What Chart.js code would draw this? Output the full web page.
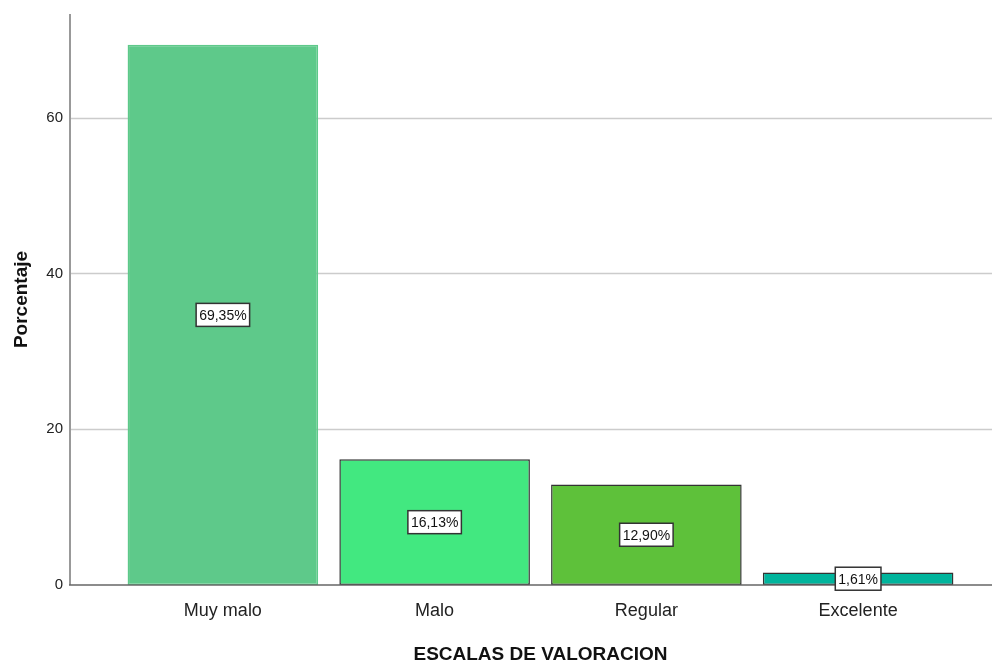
<!DOCTYPE html>
<html lang="es">
<head>
    <meta charset="UTF-8">
    <title>Escalas de valoracion</title>
    <script src="https://cdn.jsdelivr.net/npm/chart.js"></script>
    <style>
        body {
            margin: 0;
            background: #fff;
        }
        canvas {
            display: block;
        }
    </style>
</head>
<body>
    <canvas id="grafico" width="992" height="666"></canvas>
    <script>
        // Datos
        const categorias = ['Muy malo', 'Malo', 'Regular', 'Excelente'];
        const porcentajes = [69.35, 16.13, 12.90, 1.61];
        const ticksY = [0, 20, 40, 60];

        const colores = ['#5ec98a', '#42e880', '#5ec13a', '#00b49c'];
        const bordes = ['#5ec98a', '#333333', '#333333', '#333333'];

        const fuente = "'Liberation Sans', Arial, sans-serif";

        // Ejes y lineas de cuadricula que van de borde a borde
        const lineasPlugin = {
            id: 'lineas',
            beforeDatasetsDraw(chart) {
                const ctx = chart.ctx;
                const y = chart.scales.y;
                const x0 = 70;
                const x1 = chart.width;
                ctx.save();
                ctx.strokeStyle = '#cccccc';
                ctx.lineWidth = 1.5;
                y.ticks.forEach(t => {
                    if (t.value === 0) return;
                    const py = Math.round(y.getPixelForValue(t.value)) + 0.5;
                    ctx.beginPath();
                    ctx.moveTo(x0, py);
                    ctx.lineTo(x1, py);
                    ctx.stroke();
                });
                ctx.strokeStyle = '#999999';
                ctx.lineWidth = 2;
                ctx.beginPath();
                ctx.moveTo(x0, y.top);
                ctx.lineTo(x0, y.getPixelForValue(0));
                ctx.stroke();
                ctx.restore();
            },
            afterDatasetsDraw(chart) {
                const ctx = chart.ctx;
                const y = chart.scales.y;
                const py = y.getPixelForValue(0);
                ctx.save();
                ctx.strokeStyle = '#666666';
                ctx.lineWidth = 1.5;
                ctx.beginPath();
                ctx.moveTo(69, py);
                ctx.lineTo(chart.width, py);
                ctx.stroke();

                // Etiquetas con el porcentaje
                const meta = chart.getDatasetMeta(0);
                ctx.font = '14px ' + fuente;
                ctx.textAlign = 'center';
                ctx.textBaseline = 'middle';
                meta.data.forEach((barra, i) => {
                    const texto = porcentajes[i].toFixed(2).replace('.', ',') + '%';
                    const cy = (barra.y + barra.base) / 2;
                    const w = ctx.measureText(texto).width + 6;
                    const h = 23;
                    ctx.fillStyle = '#ffffff';
                    ctx.fillRect(barra.x - w / 2, cy - h / 2, w, h);
                    ctx.strokeStyle = '#333333';
                    ctx.lineWidth = 1.5;
                    ctx.strokeRect(barra.x - w / 2, cy - h / 2, w, h);
                    ctx.fillStyle = '#111111';
                    ctx.fillText(texto, barra.x, cy + 1);
                });
                ctx.restore();
            }
        };

        new Chart(document.getElementById('grafico'), {
            type: 'bar',
            data: {
                labels: categorias,
                datasets: [{
                    data: porcentajes,
                    backgroundColor: colores,
                    borderColor: bordes,
                    borderWidth: 1.5,
                    borderSkipped: false,
                    barPercentage: 0.9,
                    categoryPercentage: 1.0
                }]
            },
            options: {
                responsive: false,
                animation: false,
                layout: {
                    padding: { top: 14, right: 28, left: 0, bottom: 0 }
                },
                plugins: {
                    legend: { display: false },
                    tooltip: { enabled: false }
                },
                scales: {
                    x: {
                        grid: { display: false, drawTicks: false },
                        border: { display: false },
                        ticks: {
                            color: '#222',
                            padding: 15,
                            font: { family: fuente, size: 18 }
                        },
                        title: {
                            display: true,
                            text: 'ESCALAS DE VALORACION',
                            color: '#111',
                            font: { family: fuente, size: 19, weight: 'bold' },
                            padding: { top: 0, bottom: 0 }
                        },
                        afterFit(scale) {
                            scale.height = 81;
                        }
                    },
                    y: {
                        min: 0,
                        max: 73.3,
                        afterBuildTicks(scale) {
                            scale.ticks = ticksY.map(v => ({ value: v }));
                        },
                        grid: { display: false, drawTicks: false },
                        border: { display: false },
                        ticks: {
                            color: '#222',
                            padding: 54,
                            font: { family: fuente, size: 15 }
                        },
                        title: {
                            display: true,
                            text: 'Porcentaje',
                            color: '#111',
                            font: { family: fuente, size: 19, weight: 'bold' },
                            padding: { top: 10, bottom: 0 }
                        },
                        afterFit(scale) {
                            scale.width = 117;
                            // el relleno de las etiquetas no debe mover el area del grafico
                            scale.paddingTop = 0;
                            scale.paddingBottom = 0;
                        }
                    }
                }
            },
            plugins: [lineasPlugin]
        });
    </script>
</body>
</html>
